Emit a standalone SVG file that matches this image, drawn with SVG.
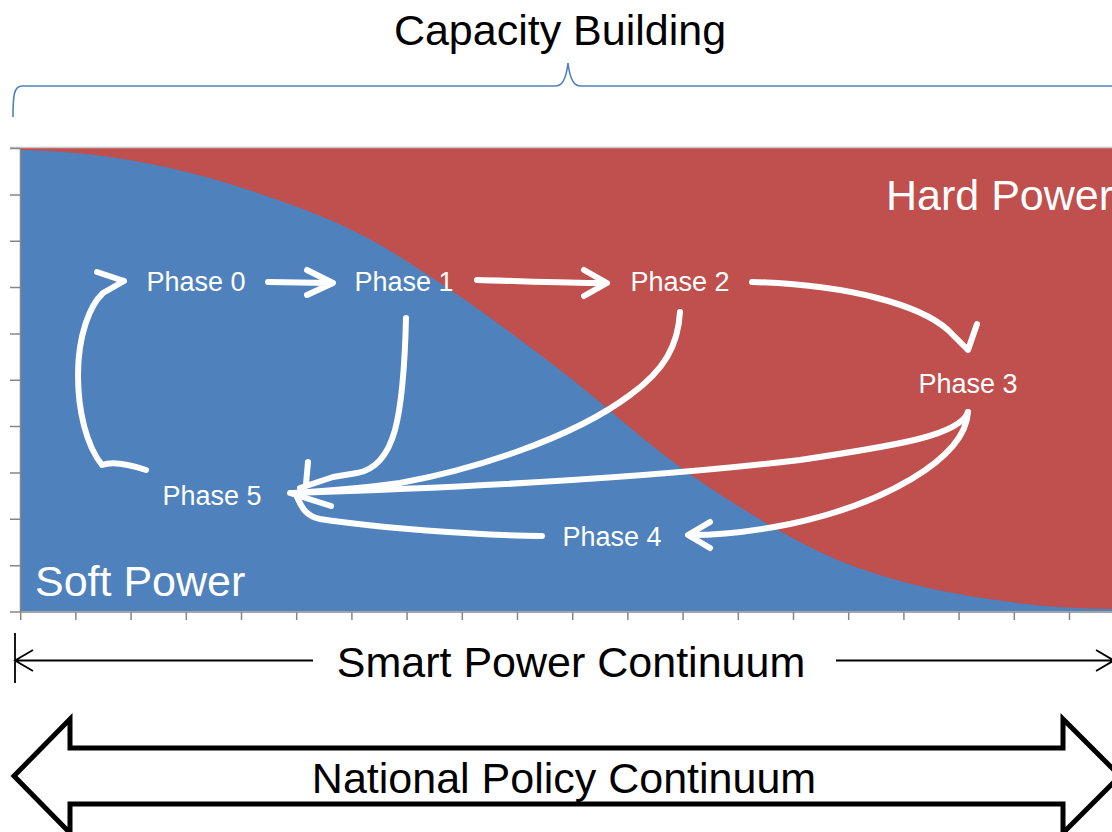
<svg xmlns="http://www.w3.org/2000/svg" width="1112" height="832" viewBox="0 0 1112 832">
  <style>
    .lbl { font-family: "Liberation Sans", Arial, sans-serif; font-size: 43px; }
    .ph { font-family: "Liberation Sans", Arial, sans-serif; font-size: 27px; fill: #ffffff; text-anchor: middle; }
    .con { fill: none; stroke: #ffffff; stroke-width: 6; stroke-linecap: round; stroke-linejoin: round; }
    .axis { stroke: #868686; stroke-width: 1.5; fill: none; }
  </style>
  <rect x="0" y="0" width="1112" height="832" fill="#ffffff"/>

  <g id="chart">
    <rect x="21" y="148" width="1091" height="463" fill="#c0504d"/>
    <path fill="#4f81bd" d="M21,150 C71,151 118.5,156.3 170,168 C221.5,179.7 285,200.8 330,220 C375,239.2 401.7,258 440,283 C478.3,308 520,339.3 560,370 C600,400.7 640,438.3 680,467 C720,495.7 763.3,522.7 800,542 C836.7,561.3 863.8,570.8 900,581 C936.2,591.2 981.7,598.3 1017,603 C1052.3,607.7 1082,608.5 1112,609 L1112,611 L21,611 Z"/>
    <line x1="10" y1="147.5" x2="1112" y2="147.5" stroke="#c8c8c8" stroke-width="1.5"/>
    <path class="axis" d="M20.5,148 V612 M10,612 H1112"/>
    <path class="axis" d="M10,148.5 H20 M10,194.9 H20 M10,241.2 H20 M10,287.6 H20 M10,333.9 H20 M10,380.3 H20 M10,426.6 H20 M10,473 H20 M10,519.3 H20 M10,565.7 H20"/>
    <path class="axis" d="M20.7,612 V620 M75.9,612 V620 M131.1,612 V620 M186.3,612 V620 M241.5,612 V620 M296.7,612 V620 M351.9,612 V620 M407.1,612 V620 M462.3,612 V620 M517.5,612 V620 M572.7,612 V620 M627.9,612 V620 M683.1,612 V620 M738.3,612 V620 M793.5,612 V620 M848.7,612 V620 M903.9,612 V620 M959.1,612 V620 M1014.3,612 V620 M1069.5,612 V620"/>
  </g>

  <g id="capacity-building">
    <path d="M13,117 C13,95 14,86 22,86 L555,86 C562,86 566,80 568,63 C570,80 574,86 581,86 L1112,86" fill="none" stroke="#4f81bd" stroke-width="1.6"/>
    <text class="lbl" x="560" y="45" text-anchor="middle" fill="#000000">Capacity Building</text>
  </g>

  <g id="hard-power"><text class="lbl" x="886" y="210" fill="#ffffff">Hard Power</text></g>
  <g id="soft-power"><text class="lbl" x="35" y="596" fill="#ffffff">Soft Power</text></g>

  <g id="connectors">
    <path class="con" d="M268,282 L330,283 M307,270 L333,283 L307,295"/>
    <path class="con" d="M477,280 C520,281 560,283 605,283 M584,270 L607,283 L584,296"/>
    <path class="con" d="M752,282 C850,285 920,305 948,330 L968,350 L977,324"/>
    <path class="con" d="M146,470 C125,463 110,462 102,465 C86,445 78,410 78,375 C78,335 90,305 103,293 L124,281 M97,272 L124,281"/>
    <path class="con" d="M406,318 C405,360 403,400 395,430 C388,455 375,470 357,473 L333,477 L300,488 M308,462 L306,484"/>
    <path class="con" d="M680,312 C678,345 665,370 630,395 C570,440 470,470 400,483 C350,490 320,491 292,493"/>
    <path class="con" d="M968,412 C960,435 900,445 800,460 C650,478 450,488 292,493"/>
    <path class="con" d="M290,493 L331,506"/>
    <path class="con" d="M542,536 C470,535 380,528 320,519 C306,516 302,508 297,497"/>
    <path class="con" d="M968,412 C965,460 880,505 790,524 C750,532 720,535 690,535 M710,522 L688,535 L710,548"/>
  </g>

  <g id="phase0"><text class="ph" x="196" y="291">Phase 0</text></g>
  <g id="phase1"><text class="ph" x="404" y="291">Phase 1</text></g>
  <g id="phase2"><text class="ph" x="680" y="291">Phase 2</text></g>
  <g id="phase3"><text class="ph" x="968" y="393">Phase 3</text></g>
  <g id="phase4"><text class="ph" x="612" y="546">Phase 4</text></g>
  <g id="phase5"><text class="ph" x="212" y="505">Phase 5</text></g>

  <g id="smart-power-continuum">
    <path d="M15,633 V683 M15,660.5 H313 M33,650 L15,660.5 L33,671 M836,660.5 H1113 M1096,650 L1114,660.5 L1096,671" fill="none" stroke="#000000" stroke-width="1.8"/>
    <text class="lbl" x="571" y="677" text-anchor="middle" fill="#000000">Smart Power Continuum</text>
  </g>

  <g id="national-policy-continuum">
    <polygon points="14,776 70,719 70,748 1063,748 1063,719 1120,776 1063,833 1063,804 70,804 70,833" fill="#ffffff" stroke="#000000" stroke-width="5" stroke-linejoin="miter"/>
    <text class="lbl" x="564" y="793" text-anchor="middle" fill="#000000">National Policy Continuum</text>
  </g>
</svg>
